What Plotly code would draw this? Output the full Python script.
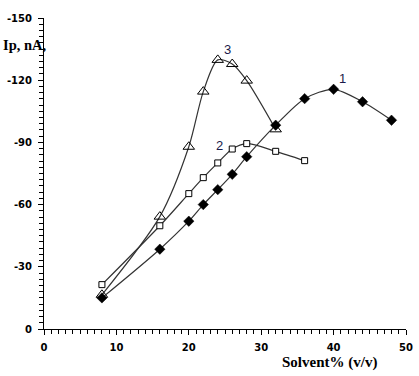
import plotly.graph_objects as go

x1 = [8, 16, 20, 22, 24, 26, 28, 32, 36, 40, 44, 48]
y1 = [-15, -38.5, -52, -60, -67.2, -74.6, -83.1, -98.3, -111.1, -115.6, -109.6, -100.7]
x2 = [8, 16, 20, 22, 24, 26, 28, 32, 36]
y2 = [-21.4, -49.8, -65.3, -73, -80.1, -86.8, -89.4, -85.7, -81.2]
x3 = [8, 16, 20, 22, 24, 26, 28, 32]
y3 = [-16.5, -54.2, -87.9, -114.5, -129.8, -127.8, -119.8, -96.3]

yticks = [0, -30, -60, -90, -120, -150]
ytext = ["0", "-30", "-60", "-90", "-120", "-150"]
xticks = [0, 10, 20, 30, 40, 50]

line = dict(color="#333333", width=1.2, shape="spline", smoothing=0.8)
fig = go.Figure()
fig.add_trace(go.Scatter(x=x3, y=y3, mode="lines+markers", line=line, cliponaxis=False,
                         marker=dict(symbol="triangle-up-open", size=10, color="black", line=dict(width=1))))
fig.add_trace(go.Scatter(x=x2, y=y2, mode="lines+markers", line=line, cliponaxis=False,
                         marker=dict(symbol="square", size=6, color="white", line=dict(width=1, color="black"))))
fig.add_trace(go.Scatter(x=x1, y=y1, mode="lines+markers", line=line, cliponaxis=False,
                         marker=dict(symbol="diamond", size=8, color="black", line=dict(width=0.5, color="black"))))

tickfont = dict(family="DejaVu Sans", size=10, color="black", weight="bold")
fig.update_layout(
    width=419, height=376, showlegend=False,
    margin=dict(l=44, r=13, t=18, b=47, autoexpand=False),
    plot_bgcolor="white", paper_bgcolor="white",
    xaxis=dict(range=[0, 50], tickvals=xticks, ticks="outside", ticklen=5, tickcolor="black",
               showline=True, linecolor="black", linewidth=1, showgrid=False, zeroline=False,
               tickfont=tickfont, ticklabelstandoff=4, automargin=False,
               minor=dict(dtick=1, ticks="outside", ticklen=4, tickcolor="black", showgrid=False)),
    yaxis=dict(range=[0, -150], tickvals=yticks, ticktext=ytext, ticks="outside", ticklen=5, tickcolor="black",
               showline=True, linecolor="black", linewidth=1, showgrid=False, zeroline=False,
               tickfont=tickfont, ticklabelstandoff=4, automargin=False,
               minor=dict(dtick=3, ticks="outside", ticklen=4, tickcolor="black", showgrid=False)),
    annotations=[
        dict(x=25.4, y=-134.6, text="3", showarrow=False, font=dict(family="Arial", size=13, color="#1a1a4a")),
        dict(x=24.2, y=-88.3, text="2", showarrow=False, font=dict(family="Arial", size=13, color="#1a1a4a")),
        dict(x=41.2, y=-121, text="1", showarrow=False, font=dict(family="Arial", size=13, color="#1a1a4a")),
        dict(xref="paper", yref="paper", x=-0.12, y=0.913, xanchor="left", yanchor="middle", text="Ip, nA,",
             showarrow=False, font=dict(family="Liberation Serif", size=14.5, color="black", weight="bold")),
        dict(xref="paper", yref="paper", x=0.79, y=-0.108, xanchor="center", yanchor="middle",
             text="Solvent% (v/v)",
             showarrow=False, font=dict(family="Liberation Serif", size=15, color="black", weight="bold")),
    ],
)
fig.write_html("out.html", post_script="document.body.style.margin='0';",
               config={"displayModeBar": False})
